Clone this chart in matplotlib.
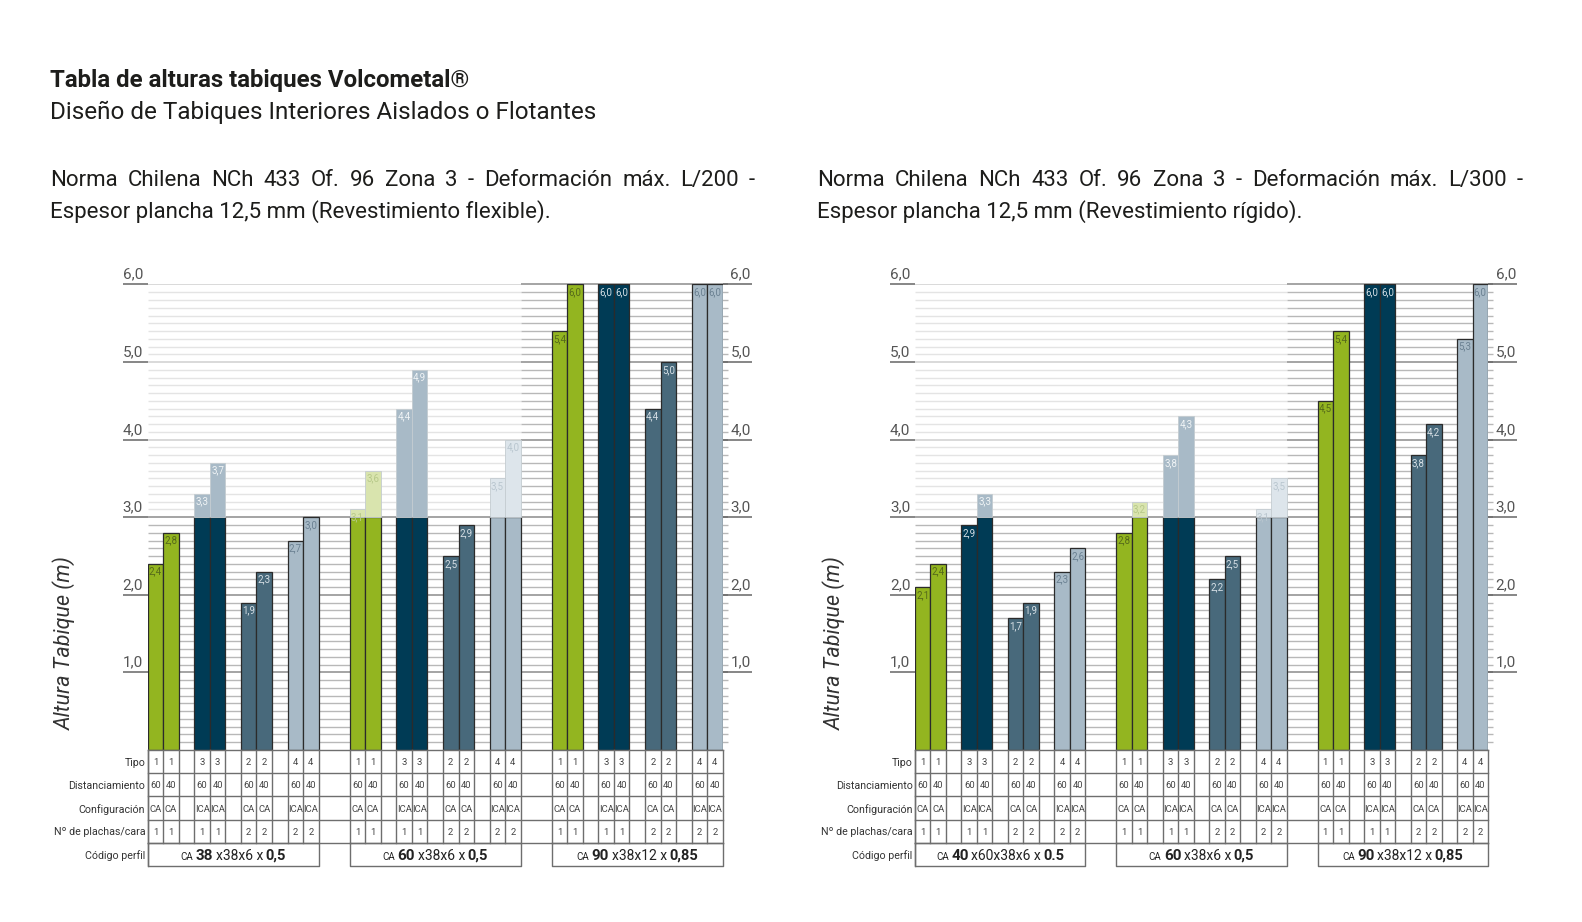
import matplotlib
matplotlib.use("Agg")
import matplotlib.pyplot as plt
from matplotlib.transforms import offset_copy

plt.rcParams["font.family"] = ["Roboto", "DejaVu Sans"]

W, H = 1582, 922

# ---- datos ----
tipos = [1, 3, 2, 4]
distancias = [60, 40]
configuraciones = ["CA", "ICA", "CA", "ICA"]
plachas = [1, 1, 2, 2]
filas = ["Tipo", "Distanciamiento", "Configuración", "Nº de plachas/cara", "Código perfil"]
ticks_y = [1, 2, 3, 4, 5, 6]

# alturas (m) por perfil; orden: tipo 1, 3, 2, 4 -> (60, 40)
alturas_l200 = [
    [2.4, 2.8, 3.3, 3.7, 1.9, 2.3, 2.7, 3.0],
    [3.1, 3.6, 4.4, 4.9, 2.5, 2.9, 3.5, 4.0],
    [5.4, 6.0, 6.0, 6.0, 4.4, 5.0, 6.0, 6.0],
]
alturas_l300 = [
    [2.1, 2.4, 2.9, 3.3, 1.7, 1.9, 2.3, 2.6],
    [2.8, 3.2, 3.8, 4.3, 2.2, 2.5, 3.1, 3.5],
    [4.5, 5.4, 6.0, 6.0, 3.8, 4.2, 5.3, 6.0],
]
# altura max. recomendada por perfil (lo que excede se muestra atenuado)
limites = [3.0, 3.0, None]

perfiles_l200 = [("CA", "38", "x38x6 x", "0,5"),
                 ("CA", "60", "x38x6 x", "0,5"),
                 ("CA", "90", "x38x12 x", "0,85")]
perfiles_l300 = [("CA", "40", "x60x38x6 x", "0.5"),
                 ("CA", "60", "x38x6 x", "0,5"),
                 ("CA", "90", "x38x12 x", "0,85")]

# ---- estilos ----
TXT = "#1d1d1b"
colores = ["#93b520", "#003b55", "#48697b", "#a8bac7"]
colores_suaves = ["#d9e4ae", "#a8bac7", "#c5d0d6", "#dde5eb"]
etiqueta = ["#55691a", "#d3dde3", "#d6dfe5", "#6b8192"]
etiqueta_suave = ["#b7c98a", "#f0f4f6", "#f0f4f6", "#b9c6cf"]

N_SLOTS = 37
Y_TOP, Y_BASE, Y_TABLA = 284.5, 750, 866

fig = plt.figure(figsize=(W / 100, H / 100), dpi=100)
renderer = fig.canvas.get_renderer()


def ancho(t):
    return t.get_window_extent(renderer=renderer).width


def justificado(x0, x1, y, linea, size):
    palabras = linea.split(" ")
    ts = [fig.text(x0 / W, 1 - y / H, p, fontsize=size, va="baseline", color=TXT)
          for p in palabras]
    ws = [ancho(t) for t in ts]
    gap = (x1 - x0 - sum(ws)) / (len(ws) - 1)
    x = x0
    for t, w in zip(ts, ws):
        t.set_x(x / W)
        x += w + gap


def texto_mixto(ax, x, y, piezas, sep=2.5):
    ts = [ax.text(x, y, s, fontsize=sz, fontweight=wt, ha="left", va="baseline", color="#222")
          for s, sz, wt in piezas]
    ws = [ancho(t) for t in ts]
    dx = -(sum(ws) + sep * (len(ws) - 1)) / 2
    for t, w in zip(ts, ws):
        t.set_transform(offset_copy(ax.transData, fig=fig, x=dx, y=0, units="dots"))
        dx += w + sep


def grafico(x0, x1, alturas, perfiles, x_ylabel):
    ax = fig.add_axes([x0 / W, 1 - Y_BASE / H, (x1 - x0) / W, (Y_BASE - Y_TOP) / H])
    ax.set_xlim(0, N_SLOTS)
    ax.set_ylim(0, 6)
    ax.axis("off")

    fin_suave = max(13 * g + 11 for g, l in enumerate(limites) if l is not None)

    # lineas de grilla cada 0,1 m
    for k in range(1, 61):
        y = k / 10
        mayor = k % 10 == 0
        oscuro = "#8c8c8c" if mayor else "#b8b8b8"
        claro = "#cfcfcf" if mayor else "#e4e4e4"
        lw = 1.1 if mayor else 1.0
        if y > 3.0:
            ax.hlines(y, 0, fin_suave, color=claro, lw=lw, zorder=1)
            ax.hlines(y, fin_suave, N_SLOTS + 0.35, color=oscuro, lw=lw, zorder=1, clip_on=False)
        else:
            ax.hlines(y, 0, N_SLOTS + 0.35, color=oscuro, lw=lw, zorder=1, clip_on=False)
        if mayor:
            ax.hlines(y, -1.6, 0, color="#666", lw=1.1, clip_on=False)
            ax.hlines(y, N_SLOTS, N_SLOTS + 1.9, color="#666", lw=1.1, clip_on=False)

    for v in ticks_y:
        lab = f"{v},0"
        ax.text(-0.3, v + 0.035, lab, ha="right", va="bottom", fontsize=11,
                color="#555", clip_on=False)
        ax.text(N_SLOTS + 0.5, v + 0.035, lab, ha="left", va="bottom", fontsize=11,
                color="#555", clip_on=False)

    # barras
    for g, vals in enumerate(alturas):
        lim = limites[g]
        for i, v in enumerate(vals):
            p, b = divmod(i, 2)
            s = 13 * g + 3 * p + b + 0.5
            if lim is not None and v > lim:
                ax.bar(s, lim, width=1, color=colores[p], edgecolor="#2b2b2b", lw=0.9, zorder=3)
                ax.bar(s, v - lim, bottom=lim, width=1, color=colores_suaves[p],
                       edgecolor="#c4ccd1", lw=0.6, zorder=3)
                lc = etiqueta_suave[p]
            else:
                ax.bar(s, v, width=1, color=colores[p], edgecolor="#2b2b2b", lw=0.9, zorder=3)
                lc = etiqueta[p]
            ax.text(s, v - 0.035, f"{v:.1f}".replace(".", ","), ha="center", va="top",
                    fontsize=7, color=lc, zorder=4)

    # tabla inferior
    tb = fig.add_axes([x0 / W, 1 - Y_TABLA / H, (x1 - x0) / W, (Y_TABLA - Y_BASE) / H])
    tb.set_xlim(0, N_SLOTS)
    tb.set_ylim(5, 0)
    tb.axis("off")
    lc = "#6e6e6e"
    for r in range(5):
        tb.plot([0, N_SLOTS], [r, r], color=lc, lw=1, clip_on=False)
    tb.plot([0, 0], [0, 5], color=lc, lw=1, clip_on=False)
    for r, nombre in enumerate(filas):
        tb.text(-0.15, r + 0.55, nombre, ha="right", va="center", fontsize=7.7, color="#333")
    for g, perfil in enumerate(perfiles):
        a = 13 * g
        tb.plot([a, a + 11, a + 11, a, a], [4, 4, 5, 5, 4], color=lc, lw=1, clip_on=False)
        for p in range(4):
            for e in range(3):
                xv = a + 3 * p + e
                tb.plot([xv, xv], [0, 4], color=lc, lw=1, clip_on=False)
            for b in range(2):
                s = a + 3 * p + b + 0.5
                celdas = [tipos[p], distancias[b], configuraciones[p], plachas[p]]
                for r, c in enumerate(celdas):
                    tb.text(s, r + 0.55, str(c), ha="center", va="center",
                            fontsize=6.8, color="#444")
        texto_mixto(tb, a + 5.5, 4.72, [(perfil[0], 7, "normal"), (perfil[1], 11, "bold"),
                                        (perfil[2], 10, "normal"), (perfil[3], 10.5, "bold")])

    fig.text(x_ylabel / W, 1 - 643 / H, "Altura Tabique (m)", rotation=90, style="italic",
             fontsize=15.5, color="#333", ha="center", va="center")


# ---- textos ----
fig.text(50 / W, 1 - 87 / H, "Tabla de alturas tabiques Volcometal®", fontsize=17.3,
         fontweight="bold", color=TXT, va="baseline")
fig.text(50 / W, 1 - 119 / H, "Diseño de Tabiques Interiores Aislados o Flotantes",
         fontsize=17.5, color=TXT, va="baseline")

justificado(50, 755, 186, "Norma Chilena NCh 433 Of. 96 Zona 3 - Deformación máx. L/200 -", 16)
fig.text(50 / W, 1 - 218 / H, "Espesor plancha 12,5 mm (Revestimiento flexible).",
         fontsize=16, color=TXT, va="baseline")
justificado(817, 1523, 186, "Norma Chilena NCh 433 Of. 96 Zona 3 - Deformación máx. L/300 -", 16)
fig.text(817 / W, 1 - 218 / H, "Espesor plancha 12,5 mm (Revestimiento rígido).",
         fontsize=16, color=TXT, va="baseline")

grafico(147.7, 722.7, alturas_l200, perfiles_l200, 64)
grafico(915, 1488, alturas_l300, perfiles_l300, 834)

fig.savefig("out.png", dpi=100)
